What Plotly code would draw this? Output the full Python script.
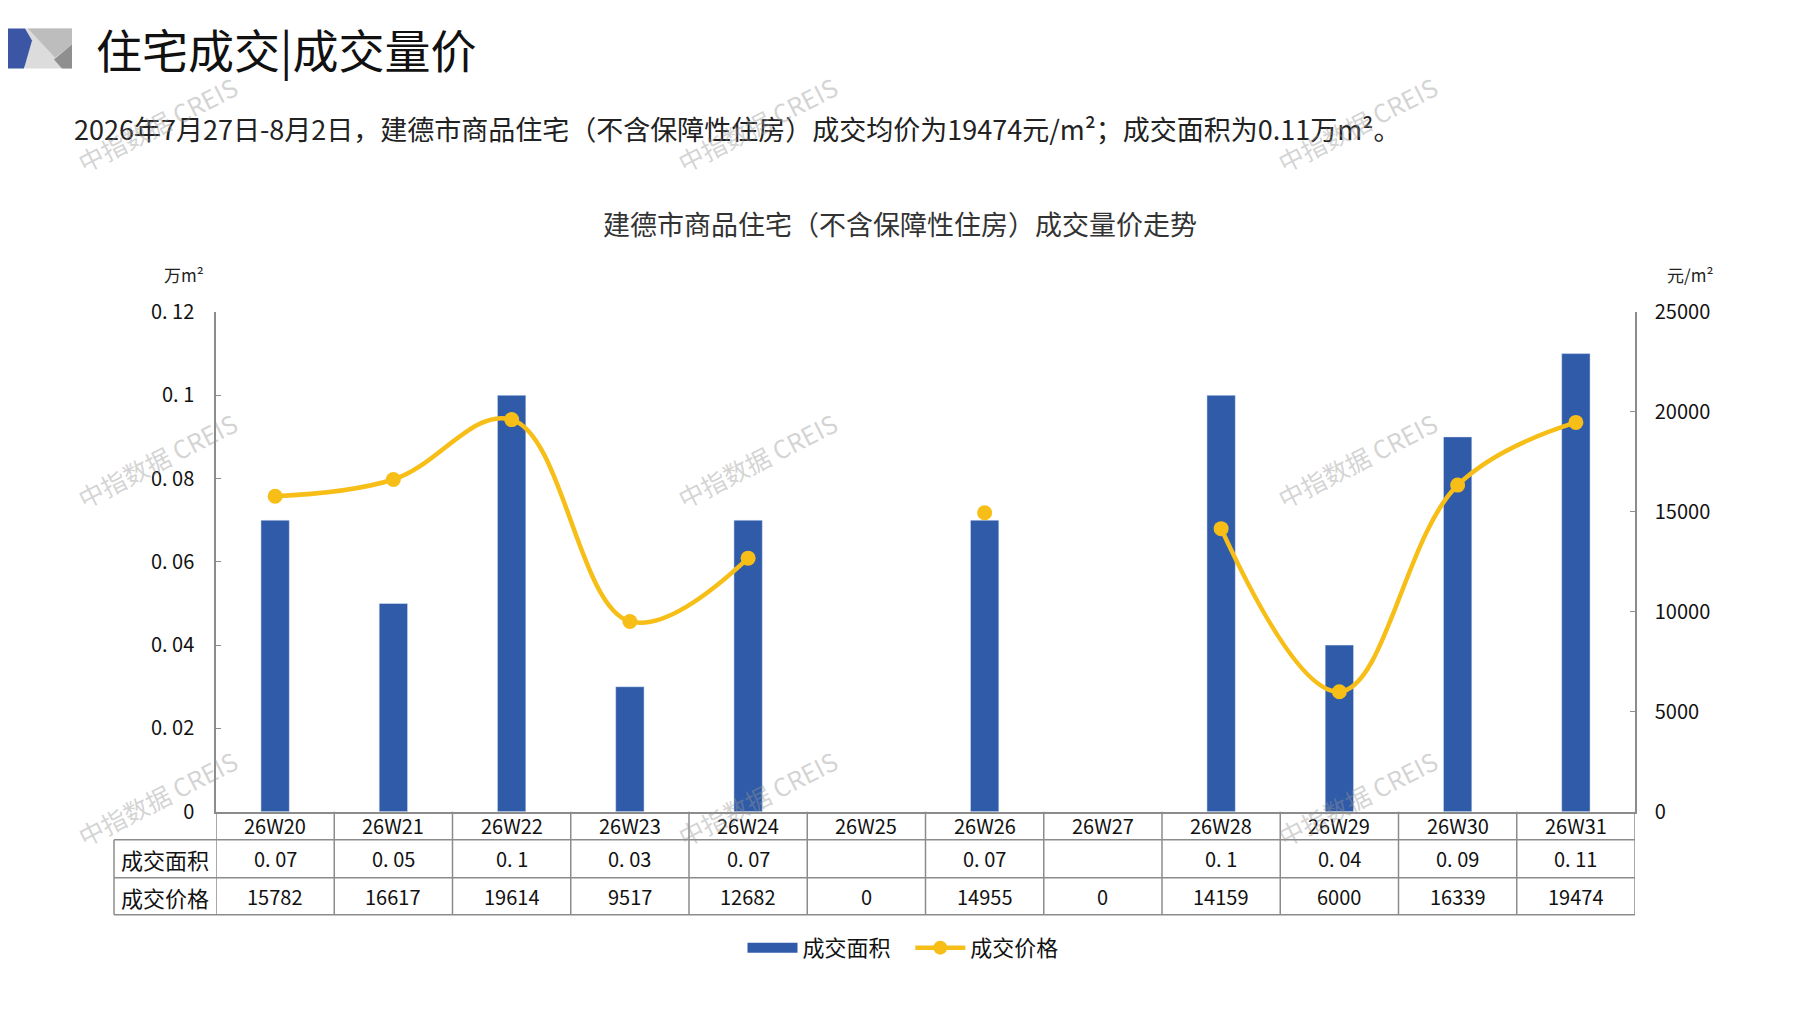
import plotly.graph_objects as go

# 数据
weeks = ["26W20", "26W21", "26W22", "26W23", "26W24", "26W25",
         "26W26", "26W27", "26W28", "26W29", "26W30", "26W31"]
area = [0.07, 0.05, 0.1, 0.03, 0.07, None, 0.07, None, 0.1, 0.04, 0.09, 0.11]
price = [15782, 16617, 19614, 9517, 12682, 0, 14955, 0, 14159, 6000, 16339, 19474]
area_ticks = [0, 0.02, 0.04, 0.06, 0.08, 0.1, 0.12]
area_ticktext = ["0", "0. 02", "0. 04", "0. 06", "0. 08", "0. 1", "0. 12"]
price_ticks = [0, 5000, 10000, 15000, 20000, 25000]

W, H = 1797, 1010
BLUE = "#2F5BA8"
YELLOW = "#F6BE17"
GRID = "#8C8C8C"
CJK = "Noto Sans CJK SC"
NUM = "Liberation Sans Narrow, Noto Sans CJK SC, sans-serif"


# 目标图像像素 -> paper 坐标 (补偿截图时页面的边距与纵向缩放)
def px(x):
    return (x - 8) / W


def py(y):
    return 1 - (y * 1.031 - 25.2) / H


def fmt_area(v):
    return "" if v is None else str(v).replace(".", ". ")


def label(x, y, text, size, color="#111", family=CJK, xref="paper", **kw):
    d = dict(x=x, xref=xref, y=py(y), yref="paper", text=text, showarrow=False,
             xanchor="center", yanchor="middle",
             font=dict(family=family, size=size, color=color))
    d.update(kw)
    return d


fig = go.Figure()

fig.add_trace(go.Bar(
    x=weeks, y=area, width=0.24, marker_color=BLUE,
    name="成交面积", showlegend=False, yaxis="y"))

# 价格为0的周不画点
price_line = [p if p else None for p in price]
fig.add_trace(go.Scatter(
    x=weeks, y=price_line, mode="lines+markers", yaxis="y2",
    line=dict(color=YELLOW, width=4.5, shape="spline", smoothing=1.1),
    marker=dict(size=15, color=YELLOW), connectgaps=False,
    name="成交价格", showlegend=False))

# 图例
fig.add_trace(go.Scatter(x=[None], y=[None], mode="lines", name="成交面积\u00a0\u00a0\u00a0",
                         line=dict(color=BLUE, width=10)))
fig.add_trace(go.Scatter(x=[None], y=[None], mode="lines+markers", name="成交价格",
                         line=dict(color=YELLOW, width=4.5),
                         marker=dict(size=14, color=YELLOW)))

shapes = []
ann = []

# 表格线
for yy in (839, 877, 914):
    shapes.append(dict(type="line", xref="paper", yref="paper",
                       x0=px(114), x1=px(1635), y0=py(yy), y1=py(yy),
                       line=dict(color=GRID, width=1.5)))
shapes.append(dict(type="line", xref="paper", yref="paper",
                   x0=px(114), x1=px(114), y0=py(839), y1=py(914),
                   line=dict(color=GRID, width=1.5)))
for k in range(len(weeks) + 1):
    shapes.append(dict(type="line", xref="x", yref="paper",
                       x0=k - 0.5, x1=k - 0.5, y0=py(811), y1=py(914),
                       line=dict(color=GRID, width=1.5)))

for i, wk in enumerate(weeks):
    ann.append(label(wk, 825, wk, 20, family=NUM, xref="x"))
    ann.append(label(wk, 858, fmt_area(area[i]), 20, family=NUM, xref="x"))
    ann.append(label(wk, 896, str(price[i]), 20, family=NUM, xref="x"))
ann.append(label(px(165), 858, "成交面积", 22))
ann.append(label(px(165), 896, "成交价格", 22))

# 单位
ann.append(label(px(184), 275, "万m²", 17, color="#222"))
ann.append(label(px(1690), 275, "元/m²", 17, color="#222"))

# 标题
ann.append(label(px(94), 48, "住宅成交|成交量价", 46, xanchor="left"))
ann.append(label(px(72), 129,
                 "2026年7月27日-8月2日，建德市商品住宅（不含保障性住房）成交均价为19474元/m²；成交面积为0.11万m²。",
                 27, color="#222", xanchor="left"))
ann.append(label(px(900), 224, "建德市商品住宅（不含保障性住房）成交量价走势", 27, color="#333"))

# 水印
for wy in (124, 460, 797):
    for wx in (157, 757, 1357):
        ann.append(label(px(wx), wy, "中指数据 CREIS", 25,
                         color="rgba(150,150,150,0.42)", textangle=-27))


# 左上角图标
def poly(pts, color):
    path = "M " + " L ".join(f"{px(a):.5f},{py(b):.5f}" for a, b in pts) + " Z"
    return dict(type="path", xref="paper", yref="paper", path=path,
                fillcolor=color, line=dict(width=0))


shapes.append(poly([(25, 29), (72, 29), (72, 69), (25, 69)], "#DCDCDC"))
shapes.append(poly([(28, 29), (72, 29), (72, 45), (55, 58)], "#BDBDBD"))
shapes.append(poly([(72, 45), (72, 69), (62, 69), (54, 60)], "#8F8F8F"))
shapes.append(poly([(0, 29), (25, 29), (32, 41), (24, 69), (0, 69)], "#3A56A5"))

fig.update_layout(
    width=W, height=H,
    margin=dict(l=0, r=0, t=0, b=0),
    paper_bgcolor="white", plot_bgcolor="white",
    font=dict(family=CJK),
    xaxis=dict(domain=[px(216), px(1635)], range=[-0.5, len(weeks) - 0.5],
               showticklabels=False, ticks="", showgrid=False, zeroline=False,
               showline=True, linecolor=GRID, linewidth=1.5, fixedrange=True),
    yaxis=dict(domain=[py(811), py(312)], range=[0, 0.12],
               tickvals=area_ticks, ticktext=area_ticktext,
               ticks="inside", ticklen=5, tickcolor=GRID,
               showline=True, linecolor=GRID, linewidth=1.5,
               showgrid=False, zeroline=False, ticklabelstandoff=16,
               tickfont=dict(family=NUM, size=20, color="#111")),
    yaxis2=dict(overlaying="y", side="right", range=[0, 25000],
                tickvals=price_ticks, ticktext=[str(v) for v in price_ticks],
                ticks="inside", ticklen=5, tickcolor=GRID,
                showline=True, linecolor=GRID, linewidth=1.5,
                showgrid=False, zeroline=False, ticklabelstandoff=14,
                tickfont=dict(family=NUM, size=20, color="#111")),
    legend=dict(orientation="h", x=px(903), xanchor="center", y=py(947),
                yanchor="middle", itemwidth=50,
                font=dict(family=CJK, size=22, color="#111")),
    shapes=shapes,
    annotations=ann,
)

fig.write_html("out.html")
